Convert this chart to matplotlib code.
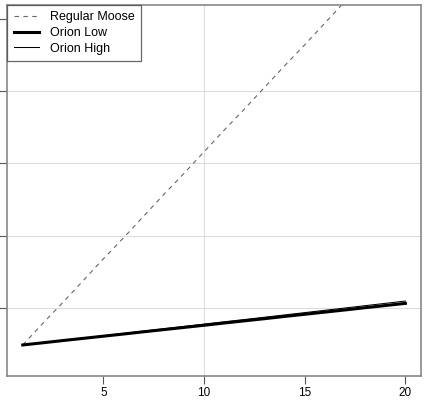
import numpy as np
import matplotlib.pyplot as plt

plt.rcParams['font.family'] = ['Liberation Sans', 'DejaVu Sans']

# data
x = np.arange(1, 21)
moose = [0.49, 0.79, 1.08, 1.38, 1.68, 1.97, 2.27, 2.57, 2.86, 3.16,
         3.46, 3.75, 4.05, 4.35, 4.64, 4.94, 5.24, 5.53, 5.83, 6.13]
orion_low = [0.490, 0.520, 0.551, 0.581, 0.611, 0.641, 0.672, 0.702, 0.732, 0.762,
             0.793, 0.823, 0.853, 0.884, 0.914, 0.944, 0.974, 1.005, 1.035, 1.065]
orion_high = [0.490, 0.522, 0.554, 0.586, 0.618, 0.650, 0.682, 0.714, 0.746, 0.778,
              0.810, 0.841, 0.873, 0.905, 0.937, 0.969, 1.001, 1.033, 1.065, 1.097]
xticks = [5, 10, 15, 20]
yticks = [1, 2, 3, 4, 5]
hgrid = [1, 2, 3, 4]
vgrid = [10]

fig = plt.figure(figsize=(4.25, 4.08), dpi=100)
ax = fig.add_axes([0.0176, 0.0792, 0.9723, 0.9085])

for h in hgrid:
    ax.axhline(h, color='#dcdcdc', lw=0.8, zorder=0)
for v in vgrid:
    ax.axvline(v, color='#dcdcdc', lw=0.8, zorder=0)

ax.plot(x, moose, color='#666666', lw=0.8, ls=(0, (4, 4)), label='Regular Moose')
ax.plot(x, orion_low, color='black', lw=2.2, label='Orion Low')
ax.plot(x, orion_high, color='black', lw=0.75, label='Orion High')

ax.set_xlim(0.24, 20.76)
ax.set_ylim(0.065, 5.19)
ax.set_xticks(xticks)
ax.set_yticks(yticks)
ax.set_yticklabels([])
ax.tick_params(axis='both', direction='out', length=5.5, width=0.8,
               color='#555555', labelsize=8.5, pad=3)
for s in ax.spines.values():
    s.set_color('#888888')
    s.set_linewidth(1.2)

leg = ax.legend(loc='upper left', borderaxespad=0, fancybox=False,
                edgecolor='#444444', fontsize=9, handlelength=2.0,
                handletextpad=0.9, labelspacing=0.3, borderpad=0.5)
leg.get_frame().set_linewidth(0.9)

fig.savefig('out.png', dpi=100)
